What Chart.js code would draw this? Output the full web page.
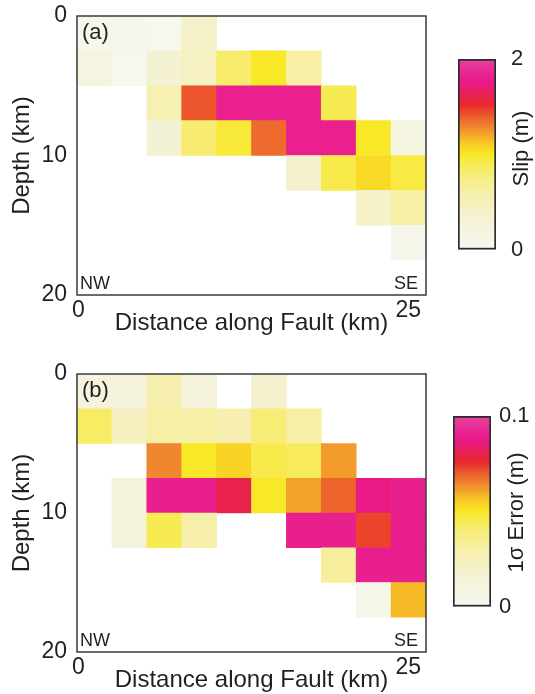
<!DOCTYPE html>
<html>
<head>
<meta charset="utf-8">
<script src="https://cdn.jsdelivr.net/npm/chart.js@4.4.1/dist/chart.umd.min.js"></script>
<style>
  body { margin: 0; background: #fff; width: 535px; height: 694px; position: relative; overflow: hidden; }
  canvas { position: absolute; }
</style>
</head>
<body>
<canvas id="slipMap" width="440" height="345" style="left:0;top:0"></canvas>
<canvas id="slipBar" width="95" height="230" style="left:440px;top:40px"></canvas>
<canvas id="errMap" width="440" height="344" style="left:0;top:358px"></canvas>
<canvas id="errBar" width="100" height="230" style="left:435px;top:397px"></canvas>
<script>
// grid of fault patches, 2.5 km cells (left edge / top edge)
const cellKm = 2.5;
const distanceKm = [0, 2.5, 5, 7.5, 10, 12.5, 15, 17.5, 20, 22.5];
const depthKm = [0, 2.5, 5, 7.5, 10, 12.5, 15, 17.5];
const xTicks = [0, 25];
const yTicks = [0, 10, 20];

// (a) slip in m, one row per depth band, null = no patch
const slipGrid = [
  [0.06, 0.04, 0.02, 0.40, null, null, null, null, null, null],
  [0.20, 0.02, 0.34, 0.44, 0.84, 1.00, 0.62, null, null, null],
  [null, null, 0.54, 1.42, 1.80, 1.80, 1.80, 0.90, null, null],
  [null, null, 0.32, 0.82, 0.96, 1.36, 1.80, 1.80, 1.00, 0.20],
  [null, null, null, null, null, null, 0.36, 0.92, 1.06, 0.94],
  [null, null, null, null, null, null, null, null, 0.40, 0.62],
  [null, null, null, null, null, null, null, null, null, 0.06],
  [null, null, null, null, null, null, null, null, null, null]
];
const slipTicks = [0, 2];

// (b) 1-sigma error in m
const errGrid = [
  [0.011, 0.011, 0.029, 0.014, null, 0.018, null, null, null, null],
  [0.043, 0.023, 0.031, 0.031, 0.028, 0.040, 0.031, null, null, null],
  [null, null, 0.0645, 0.050, 0.054, 0.046, 0.044, 0.062, null, null],
  [null, 0.012, 0.090, 0.090, 0.080, 0.050, 0.061, 0.069, 0.087, 0.090],
  [null, 0.012, 0.045, 0.030, null, null, 0.090, 0.090, 0.073, 0.090],
  [null, null, null, null, null, null, null, 0.033, 0.090, 0.090],
  [null, null, null, null, null, null, null, null, 0.003, 0.058],
  [null, null, null, null, null, null, null, null, null, null]
];
const errTicks = [0, 0.1];

// white -> yellow -> orange -> red -> magenta
const cmapStops = [
  [0.00, '#f7f7ef'], [0.15, '#f4f2d8'], [0.30, '#f6efaa'], [0.42, '#f7ec6c'],
  [0.50, '#f8e828'], [0.56, '#f8c924'], [0.64, '#f08a2e'], [0.70, '#ec5d2c'],
  [0.76, '#e9282c'], [0.82, '#e91f5a'], [0.88, '#e9198b'], [1.00, '#e6409e']
];

const FONT = "'Liberation Sans', Arial, sans-serif";
const INK = '#231f20';
Chart.defaults.font.family = FONT;
Chart.defaults.color = INK;

function hexToRgb(h) {
  return [parseInt(h.slice(1, 3), 16), parseInt(h.slice(3, 5), 16), parseInt(h.slice(5, 7), 16)];
}

function colorAt(t) {
  t = Math.max(0, Math.min(1, t));
  for (let i = 1; i < cmapStops.length; i++) {
    const [t1, c1] = cmapStops[i];
    if (t <= t1) {
      const [t0, c0] = cmapStops[i - 1];
      const f = (t - t0) / (t1 - t0);
      const a = hexToRgb(c0), b = hexToRgb(c1);
      const rgb = a.map((v, k) => Math.round(v + (b[k] - v) * f));
      return `rgb(${rgb.join(',')})`;
    }
  }
  return cmapStops[cmapStops.length - 1][1];
}

function cellsFrom(grid) {
  const cells = [];
  grid.forEach((row, r) => row.forEach((v, c) => {
    if (v === null) return;
    cells.push({ x: distanceKm[c] + cellKm / 2, y: [depthKm[r], depthKm[r] + cellKm], v: v });
  }));
  return cells;
}

// invisible tick marks give the label gap (ticks.padding would also pad the chart area)
function gapGrid(len) {
  return { display: true, drawOnChartArea: false, drawTicks: true, tickLength: len, tickColor: 'rgba(0,0,0,0)' };
}

// frame + panel tag + NW/SE
const panelDecor = {
  id: 'panelDecor',
  afterDraw(chart, args, opts) {
    const { ctx, chartArea: a } = chart;
    ctx.save();
    ctx.strokeStyle = '#3a3a3a';
    ctx.lineWidth = 1.5;
    ctx.strokeRect(a.left, a.top, a.right - a.left, a.bottom - a.top);
    ctx.fillStyle = INK;
    ctx.font = `22px ${FONT}`;
    ctx.textBaseline = 'middle';
    ctx.textAlign = 'left';
    ctx.fillText(opts.tag, a.left + 5, a.top + 17);
    ctx.font = `18px ${FONT}`;
    ctx.textBaseline = 'alphabetic';
    ctx.fillText('NW', a.left + 3, a.bottom - 6);
    ctx.textAlign = 'right';
    ctx.fillText('SE', a.right - 8, a.bottom - 6);
    ctx.restore();
  }
};

function makeMap(id, grid, vmax, tag) {
  return new Chart(document.getElementById(id), {
    type: 'bar',
    data: {
      datasets: [{
        data: cellsFrom(grid),
        backgroundColor: ctx => ctx.raw ? colorAt(ctx.raw.v / vmax) : '#fff',
        borderWidth: 0,
        barPercentage: 1,
        categoryPercentage: 1,
        grouped: false
      }]
    },
    options: {
      responsive: false,
      animation: false,
      layout: { padding: { top: 16, right: 14, left: 0, bottom: 0 } },
      plugins: { legend: { display: false }, tooltip: { enabled: false }, panelDecor: { tag: tag } },
      scales: {
        x: {
          type: 'linear', min: 0, max: 25, offset: false,
          grid: gapGrid(2),
          border: { display: false },
          afterBuildTicks: s => { s.ticks = xTicks.map(v => ({ value: v })); },
          afterFit: s => { s.height = 50; },
          ticks: { padding: 0, align: 'inner', labelOffset: -5, maxRotation: 0, font: { size: 23 } },
          title: { display: true, text: 'Distance along Fault (km)', font: { size: 24 }, padding: { top: 0, bottom: 7 } }
        },
        y: {
          type: 'linear', min: 0, max: 20, reverse: true,
          grid: gapGrid(10),
          border: { display: false },
          afterBuildTicks: s => { s.ticks = yTicks.map(v => ({ value: v })); },
          afterFit: s => { s.width = 77; },
          ticks: { padding: 0, font: { size: 23 } },
          title: { display: true, text: 'Depth (km)', font: { size: 24 }, padding: { top: 8, bottom: 0 } }
        }
      }
    },
    plugins: [panelDecor]
  });
}

// colour bar title, reads bottom to top
const barTitle = {
  id: 'barTitle',
  afterDraw(chart, args, opts) {
    const { ctx, chartArea: a } = chart;
    ctx.save();
    ctx.translate(a.right + 26, (a.top + a.bottom) / 2 + opts.shift);
    ctx.rotate(-Math.PI / 2);
    ctx.fillStyle = INK;
    ctx.font = `22px ${FONT}`;
    ctx.textAlign = 'center';
    ctx.textBaseline = 'middle';
    ctx.fillText(opts.text, 0, 0);
    ctx.restore();
  }
};

function makeBar(id, ticks, title, gap, axisW, shift) {
  const vmax = ticks[ticks.length - 1];
  return new Chart(document.getElementById(id), {
    type: 'bar',
    data: {
      labels: [''],
      datasets: [{
        data: [[0, vmax]],
        backgroundColor: ctx => {
          const a = ctx.chart.chartArea;
          if (!a) return '#fff';
          const g = ctx.chart.ctx.createLinearGradient(0, a.bottom, 0, a.top);
          cmapStops.forEach(([t, c]) => g.addColorStop(t, c));
          return g;
        },
        borderColor: '#2b2b2b',
        borderWidth: 2,
        borderSkipped: false,
        barPercentage: 1,
        categoryPercentage: 1
      }]
    },
    options: {
      responsive: false,
      animation: false,
      layout: { padding: { left: 18, top: 19, bottom: 20, right: 0 } },
      plugins: { legend: { display: false }, tooltip: { enabled: false }, barTitle: { text: title, shift: shift } },
      scales: {
        x: { display: false },
        y: {
          position: 'right', min: 0, max: vmax,
          grid: gapGrid(gap),
          border: { display: false },
          afterBuildTicks: s => { s.ticks = ticks.map(v => ({ value: v })); },
          afterFit: s => { s.width = axisW; },
          ticks: { padding: 0, font: { size: 22 }, callback: v => String(v) }
        }
      }
    },
    plugins: [barTitle]
  });
}

makeMap('slipMap', slipGrid, slipTicks[1], '(a)');
makeBar('slipBar', slipTicks, 'Slip (m)', 15, 39, -6);
makeMap('errMap', errGrid, errTicks[1], '(b)');
makeBar('errBar', errTicks, '1\u03c3 Error (m)', 8, 44, 1);
</script>
</body>
</html>
